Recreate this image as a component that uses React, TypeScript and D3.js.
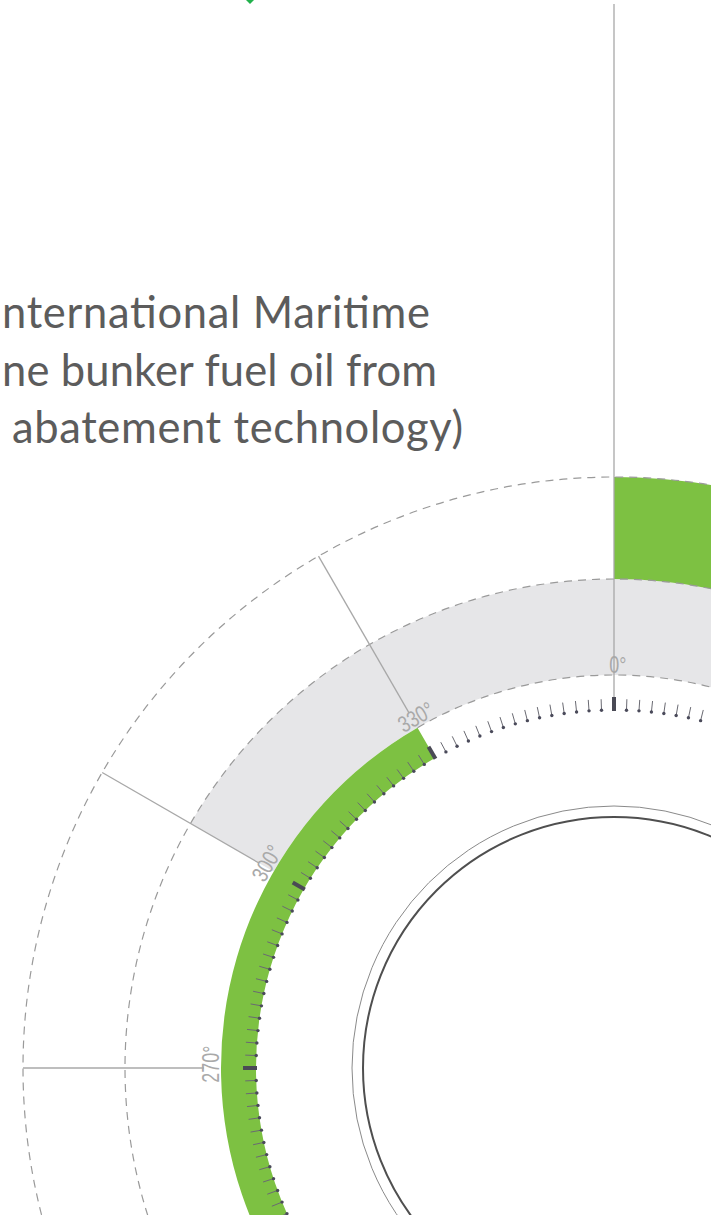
import React from "react";
import * as d3 from "d3";

// ---- data ----
const introLines = ["nternational Maritime", "ne bunker fuel oil from", "abatement technology)"];
const axisLabelAngles = [0, 270, 300, 330];
const outerArcSpan = [0, 40];      // degrees, green outer band
const bandSpan = [300, 420];       // degrees, grey band
const innerArcSpan = [190, 330];   // degrees, green inner band
const tickStep = 2;
const majorStep = 30;

// ---- layout ----
const W = 711, H = 1215;
const cx = 614, cy = 1068;
const R = {
  tickIn: 358, tickOut: 369, majorOut: 371,
  innerGreenIn: 358, innerGreenOut: 393,
  bandIn: 393, bandOut: 489, outer: 591,
  circleA: 262, circleB: 251, label: 395, lineIn: 410,
};

const deg = d3.scaleLinear().domain([0, 360]).range([0, 2 * Math.PI]);
const polar = (d: number, r: number): [number, number] => [
  cx + r * Math.sin(deg(d)),
  cy - r * Math.cos(deg(d)),
];
const arcGen = d3.arc<any>();
const arcPath = (span: number[], r0: number, r1: number) =>
  arcGen({ innerRadius: r0, outerRadius: r1, startAngle: deg(span[0]), endAngle: deg(span[1]) }) as string;
const openArc = (a0: number, a1: number, r: number) => {
  const p = d3.path();
  const s = deg(a0) - Math.PI / 2;
  const e = deg(a1) - Math.PI / 2;
  p.moveTo(r * Math.cos(s), r * Math.sin(s));
  p.arc(0, 0, r, s, e, false);
  return p.toString();
};

const GREEN = "#7dc142";
const GREY_BAND = "#e6e6e8";

export default function App() {
  const ticks = d3.range(0, 360, tickStep);
  const textX = [2, 2, 12];
  const textW = [428, 435, 451];
  return (
    <svg width={W} height={H} style={{ position: "absolute", left: 0, top: 0, display: "block", background: "#fff" }}>
      {/* small marker at top */}
      <path d="M246,0 L254,0 L250,4 Z" fill="#22b14c" />
      <g transform={`translate(${cx},${cy})`}>
        <path d={arcPath(bandSpan, R.bandIn, R.bandOut)} fill={GREY_BAND} />
        <path d={arcPath(outerArcSpan, R.bandOut, R.outer)} fill={GREEN} />
        <path d={arcPath(innerArcSpan, R.innerGreenIn, R.innerGreenOut)} fill={GREEN} />
        <circle r={R.outer} fill="none" stroke="#9a9a9a" strokeWidth={1.2} strokeDasharray="8,6" />
        <circle r={R.bandOut} fill="none" stroke="#9a9a9a" strokeWidth={1.2} strokeDasharray="8,6" />
        <path d={openArc(innerArcSpan[1], bandSpan[1], R.bandIn)} fill="none" stroke="#9a9a9a" strokeWidth={1.2} strokeDasharray="8,6" />
        <circle r={R.circleA} fill="none" stroke="#8a8a8a" strokeWidth={1} />
        <circle r={R.circleB} fill="none" stroke="#4f4f4f" strokeWidth={2} />
      </g>
      {/* radial guide lines */}
      {axisLabelAngles.map((a) => {
        const [x1, y1] = polar(a, a === 0 ? cy - 4 : R.outer);
        const [x2, y2] = polar(a, a === 0 ? R.majorOut : R.lineIn);
        return <line key={"l" + a} x1={x1} y1={y1} x2={x2} y2={y2} stroke="#a8a8a8" strokeWidth={1.3} />;
      })}
      {/* tick ring */}
      {ticks.map((t) => {
        const major = t % majorStep === 0;
        const [x1, y1] = polar(t, R.tickIn - (major ? 1 : 0));
        const [x2, y2] = polar(t, major ? R.majorOut : R.tickOut);
        return (
          <g key={"t" + t}>
            <line x1={x1} y1={y1} x2={x2} y2={y2} stroke={major ? "#4a4a55" : "#6a6a72"} strokeWidth={major ? 4 : 1} />
            {!major && <circle cx={x1} cy={y1} r={1.7} fill="#4a4a5a" />}
          </g>
        );
      })}
      {/* angle labels */}
      {axisLabelAngles.map((a) => {
        const [x, y] = polar(a, R.label);
        return (
          <g key={"lab" + a} transform={`translate(${x},${y}) rotate(${a}) scale(0.78,1)`}>
            <text x={5} y={0} textAnchor="middle" fontFamily="'Liberation Sans', Arial, sans-serif" fontSize={23} fill="#a9a9a9">
              {a + "°"}
            </text>
          </g>
        );
      })}
      {/* intro text */}
      {introLines.map((s, i) => (
        <text
          key={"tx" + i}
          x={textX[i]}
          y={328 + i * 57.5}
          fontFamily="Lato, 'Open Sans', sans-serif"
          fontSize={43.5}
          fill="#5c5c5c"
          textLength={textW[i]}
          lengthAdjust="spacing"
        >
          {s}
        </text>
      ))}
    </svg>
  );
}
